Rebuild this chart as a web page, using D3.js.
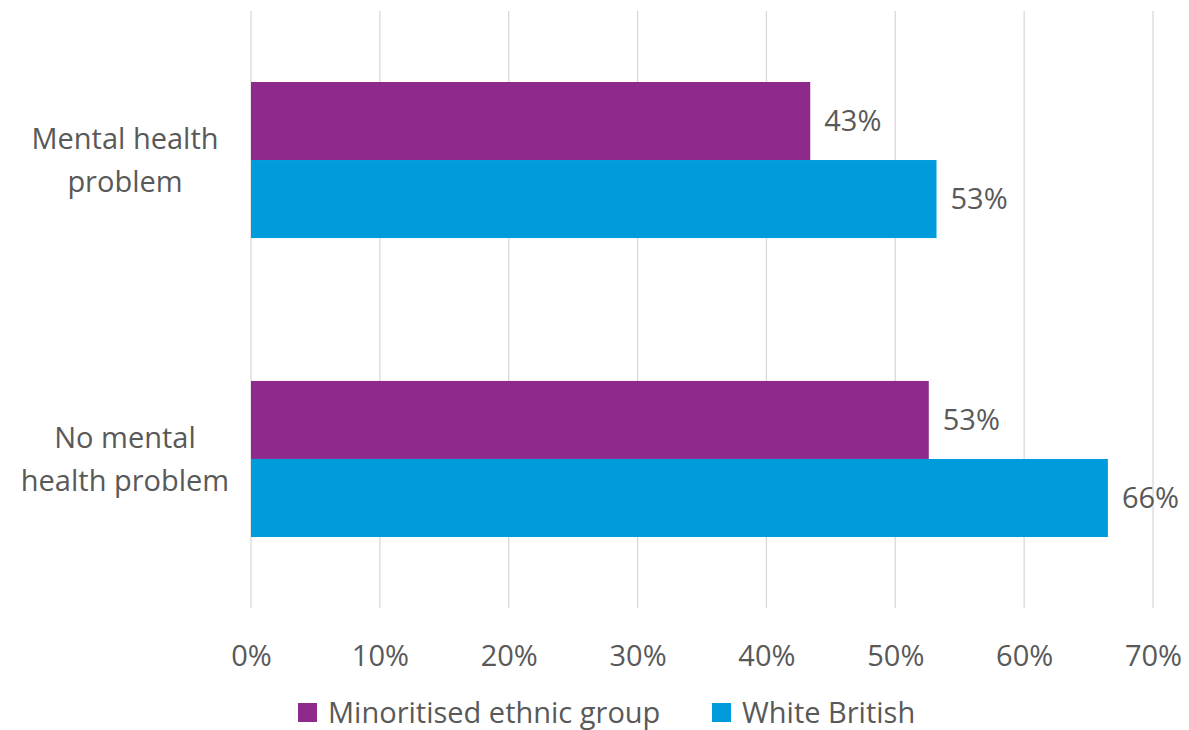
<!DOCTYPE html>
<html>
<head>
<meta charset="utf-8">
<script src="https://cdn.jsdelivr.net/npm/d3@7"></script>
<style>
  body { margin: 0; background: #fff; }
  svg text { font-family: "Open Sans", sans-serif; fill: #595959; }
</style>
</head>
<body>
<svg id="chart"></svg>
<script>
// Chart data
const categories = [['Mental health', 'problem'], ['No mental', 'health problem']];
const seriesNames = ['Minoritised ethnic group', 'White British'];
const seriesColors = ['#8E2A8B', '#009BDA'];
const minoritised = [43.4, 52.6];
const whiteBritish = [53.2, 66.5];
const valueLabels = [['43%', '53%'], ['53%', '66%']];
const xTicks = [0, 10, 20, 30, 40, 50, 60, 70];

const width = 1189;
const height = 730;
const fontSize = 29;
const margin = { top: 11, right: 36, bottom: 122, left: 251 };
const innerW = width - margin.left - margin.right;
const innerH = height - margin.top - margin.bottom;

const svg = d3.select('#chart')
  .attr('width', width)
  .attr('height', height);

const chart = svg.append('g')
  .attr('transform', `translate(${margin.left},${margin.top})`);

const xScale = d3.scaleLinear()
  .domain([0, 70])
  .range([0, innerW]);

const yScale = d3.scaleBand()
  .domain(d3.range(categories.length))
  .range([0, innerH])
  .paddingInner(0.478)
  .paddingOuter(0.2375);

const ySub = d3.scaleBand()
  .domain(d3.range(seriesNames.length))
  .range([0, yScale.bandwidth()]);

// Gridlines
chart.append('g')
  .selectAll('line')
  .data(xTicks)
  .join('line')
  .attr('x1', (d) => xScale(d))
  .attr('x2', (d) => xScale(d))
  .attr('y1', 0)
  .attr('y2', innerH)
  .attr('stroke', '#d9d9d9')
  .attr('stroke-width', 1.3);

// X axis labels
const xAxis = d3.axisBottom(xScale)
  .tickValues(xTicks)
  .tickSize(0)
  .tickPadding(37)
  .tickFormat((d) => `${d}%`);

const xAxisG = chart.append('g')
  .attr('transform', `translate(0,${innerH})`)
  .call(xAxis);
xAxisG.select('.domain').remove();
xAxisG.selectAll('text')
  .attr('font-size', fontSize)
  .style('font-family', '"Open Sans", sans-serif')
  .attr('fill', '#595959');

// Bars
const seriesValues = [minoritised, whiteBritish];
categories.forEach((cat, i) => {
  seriesValues.forEach((vals, s) => {
    const y0 = yScale(i) + ySub(s);
    chart.append('rect')
      .attr('x', xScale(0))
      .attr('y', y0)
      .attr('width', xScale(vals[i]) - xScale(0))
      .attr('height', ySub.bandwidth())
      .attr('fill', seriesColors[s]);
    chart.append('text')
      .attr('x', xScale(vals[i]) + 14)
      .attr('y', y0 + ySub.bandwidth() / 2)
      .attr('dy', '0.36em')
      .attr('font-size', fontSize)
      .text(valueLabels[i][s]);
  });
});

// Category labels
categories.forEach((lines, i) => {
  const cy = yScale(i) + yScale.bandwidth() / 2;
  const t = chart.append('text')
    .attr('x', -126)
    .attr('text-anchor', 'middle')
    .attr('font-size', fontSize);
  lines.forEach((ln, k) => {
    t.append('tspan')
      .attr('x', -126)
      .attr('y', cy + (k - 0.5) * 43)
      .attr('dy', '0.36em')
      .text(ln);
  });
});

// Legend
const legendItems = [{ x: 298 }, { x: 712 }];
const legend = svg.append('g');
seriesNames.forEach((name, s) => {
  const lx = legendItems[s].x;
  legend.append('rect')
    .attr('x', lx)
    .attr('y', 703)
    .attr('width', 19)
    .attr('height', 19)
    .attr('fill', seriesColors[s]);
  legend.append('text')
    .attr('x', lx + 30)
    .attr('y', 713)
    .attr('dy', '0.36em')
    .attr('font-size', fontSize)
    .text(name);
});
</script>
</body>
</html>
